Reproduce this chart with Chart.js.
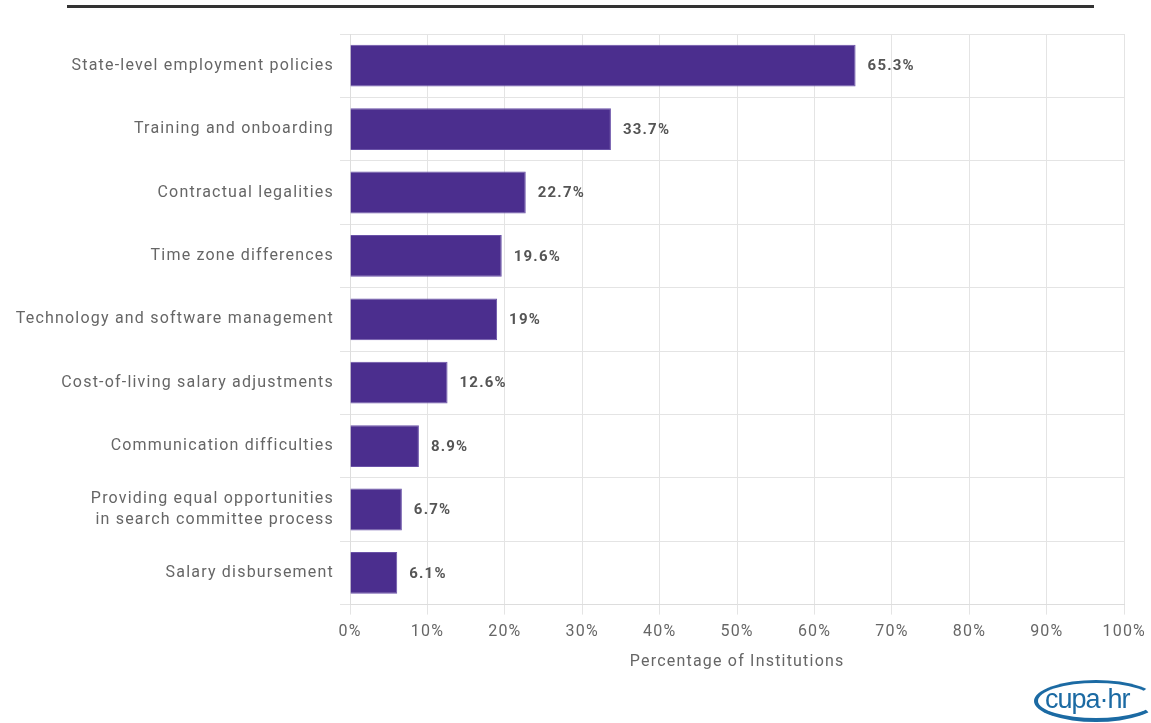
<!DOCTYPE html>
<html>
<head>
<meta charset="utf-8">
<script src="https://cdn.jsdelivr.net/npm/chart.js@4"></script>
<style>
  body { margin: 0; background: #fff; overflow: hidden; }
  .wrap { position: relative; width: 1151px; height: 723px; overflow: hidden; }
  .topline { position: absolute; left: 67px; top: 5px; width: 1027px; height: 3px; background: #333; }
  .logo { position: absolute; left: 1034px; top: 680px; width: 124px; height: 42px;
          border: 4px solid #1b6aa3; border-radius: 50%; border-right-color: transparent; border-top-width: 3px;
          box-sizing: border-box;
          font: 27px "Liberation Sans Narrow", "Liberation Sans", Arial, sans-serif; color: #1b6aa3; letter-spacing: -1px;
          line-height: 32px; padding-left: 7px; }
  canvas { position: absolute; left: 0; top: 0; }
</style>
</head>
<body>
<div class="wrap">
  <div class="topline"></div>
  <canvas id="chart" width="1154" height="723"></canvas>
  <div class="logo">cupa·hr</div>
</div>
<script>
const categories = [
    'State-level employment policies',
    'Training and onboarding',
    'Contractual legalities',
    'Time zone differences',
    'Technology and software management',
    'Cost-of-living salary adjustments',
    'Communication difficulties',
    ['Providing equal opportunities', 'in search committee process'],
    'Salary disbursement'
];
const percentages = [65.3, 33.7, 22.7, 19.6, 19, 12.6, 8.9, 6.7, 6.1];
const xTicks = [0, 10, 20, 30, 40, 50, 60, 70, 80, 90, 100];

const FONT = 'Roboto, "Liberation Sans", Arial, sans-serif';
const LS = '1.2px';

// espacement des lettres comme sur l'original
const spacing = {
    id: 'spacing',
    beforeUpdate(chart) { chart.ctx.letterSpacing = LS; },
    beforeDraw(chart) { chart.ctx.letterSpacing = LS; }
};

// valeurs au bout des barres
const valueLabels = {
    id: 'valueLabels',
    afterDatasetsDraw(chart) {
        const ctx = chart.ctx;
        const meta = chart.getDatasetMeta(0);
        ctx.save();
        ctx.letterSpacing = LS;
        ctx.font = 'bold 15px ' + FONT;
        ctx.fillStyle = '#555';
        ctx.textBaseline = 'middle';
        meta.data.forEach((bar, i) => {
            ctx.fillText(percentages[i] + '%', bar.x + 12, bar.y + 1);
        });
        ctx.restore();
    }
};

new Chart(document.getElementById('chart'), {
    type: 'bar',
    data: {
        labels: categories,
        datasets: [{
            data: percentages,
            backgroundColor: '#4b2e8e',
            borderColor: '#6a52a8',
            borderWidth: 1,
            barPercentage: 0.66,
            categoryPercentage: 1
        }]
    },
    options: {
        indexAxis: 'y',
        responsive: false,
        animation: false,
        layout: { padding: { top: 34, right: 24, bottom: 47, left: 0 } },
        plugins: { legend: { display: false }, tooltip: { enabled: false } },
        scales: {
            x: {
                min: 0,
                max: 100,
                afterBuildTicks(scale) { scale.ticks = xTicks.map(v => ({ value: v })); },
                ticks: { color: '#666', font: { family: FONT, size: 16 }, padding: 8, maxRotation: 0,
                         callback: v => v + '%' },
                grid: { color: '#e4e4e4', tickLength: 10 },
                border: { color: '#ddd' },
                title: { display: true, text: 'Percentage of Institutions', color: '#666',
                         font: { family: FONT, size: 16 }, padding: { top: 3 } }
            },
            y: {
                afterFit(scale) { scale.width = 350; },
                ticks: { color: '#666', font: { family: FONT, size: 16, lineHeight: 1.3 }, padding: 6 },
                grid: { color: '#e4e4e4', tickLength: 10 },
                border: { color: '#ddd' }
            }
        }
    },
    plugins: [spacing, valueLabels]
});
</script>
</body>
</html>
